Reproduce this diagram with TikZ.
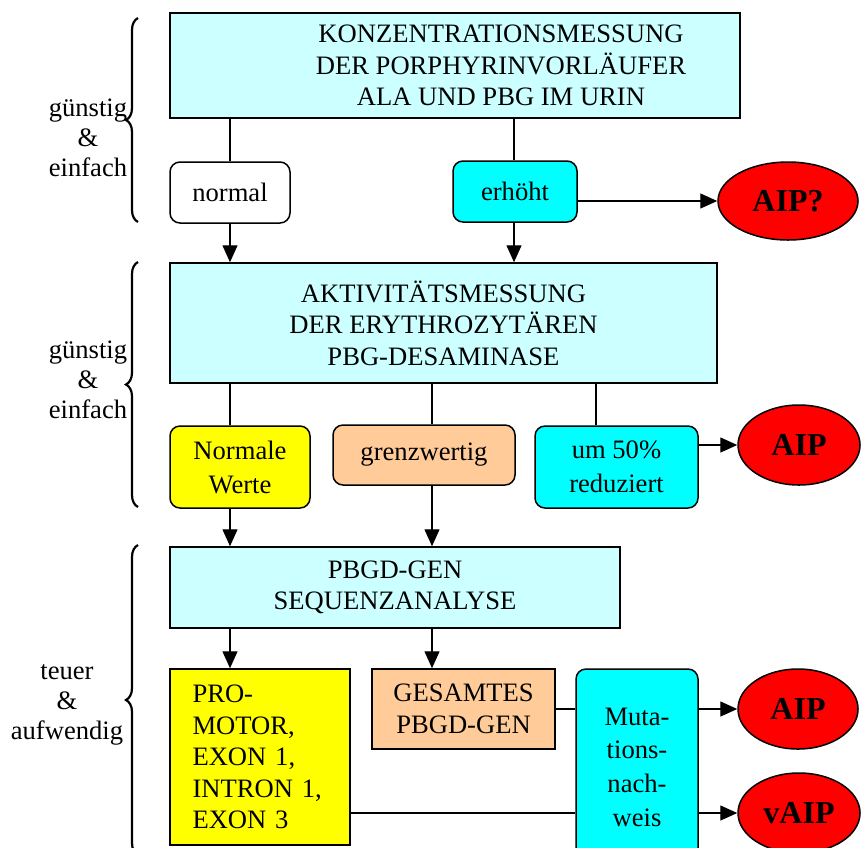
\documentclass[tikz,border=0pt]{standalone}
\usepackage{fontspec}
\setmainfont{Liberation Serif}
\usetikzlibrary{arrows.meta,shapes.geometric,decorations.pathreplacing}

\definecolor{hellcyan}{HTML}{CCFFFF}
\definecolor{vollcyan}{HTML}{00FFFF}
\definecolor{gelb}{HTML}{FFFF00}
\definecolor{pfirsich}{HTML}{FFCC99}
\definecolor{rot}{HTML}{FF0000}

\begin{document}
\begin{tikzpicture}[x=0.5pt, y=-0.5pt,
        box/.style={draw, line width=0.75pt, inner sep=0pt, align=center,
            font=\fontsize{13.3}{15.8}\selectfont},
        rbox/.style={box, rounded corners=5pt},
        diag/.style={ellipse, draw, line width=0.75pt, fill=rot, inner sep=0pt,
            font=\bfseries\fontsize{16}{19}\selectfont},
        verb/.style={line width=0.65pt},
        pfeil/.style={verb, -{Triangle[length=8.5pt, width=7.5pt]}},
        klammer/.style={decorate, decoration={brace, amplitude=6pt}, line width=1.1pt},
        aufwand/.style={align=center, font=\fontsize{13.3}{15}\selectfont}]

        \useasboundingbox (0,0) rectangle (865,847);
        \clip (0,0) rectangle (865,847);

        % columns of the vertical connectors
        \coordinate (c1) at (230,0);
        \coordinate (c2) at (432,0);
        \coordinate (c3) at (514,0);
        \coordinate (c4) at (596,0);

        % stage 1
        \node[box, fill=hellcyan, minimum width=285pt, minimum height=52.5pt] (konz) at (455,65.5)
            {\hspace*{46pt}KONZENTRATIONSMESSUNG\\\hspace*{46pt}DER PORPHYRINVORLÄUFER\\\hspace*{46pt}ALA UND PBG IM URIN};
        \node[rbox, fill=white, minimum width=60pt, minimum height=30.5pt] (normal) at (230,192.5) {normal};
        \node[rbox, fill=vollcyan, minimum width=62pt, minimum height=30.5pt] (erhoeht) at (515,191.5) {erhöht};
        \node[diag, minimum width=70pt, minimum height=39pt] (aipfrage) at (788,201) {AIP?};

        % stage 2
        \node[box, fill=hellcyan, minimum width=273.5pt, minimum height=60pt] (aktiv) at (443.5,323)
            {AKTIVITÄTSMESSUNG\\DER ERYTHROZYTÄREN\\PBG-DESAMINASE};
        \node[rbox, fill=gelb, minimum width=70pt, minimum height=41pt,
            font=\fontsize{13.3}{17}\selectfont] (normwerte) at (240,467) {Normale\\Werte};
        \node[rbox, fill=pfirsich, minimum width=91pt, minimum height=30pt] (grenz) at (424,455) {grenzwertig};
        \node[rbox, fill=vollcyan, minimum width=81.5pt, minimum height=41pt,
            font=\fontsize{13.3}{17}\selectfont] (reduz) at (616.5,467) {um 50\%\\reduziert};
        \node[diag, minimum width=61pt, minimum height=40pt] (aipa) at (799,445) {AIP};

        % stage 3
        \node[box, fill=hellcyan, minimum width=225pt, minimum height=40.5pt] (seq) at (395,587.5)
            {PBGD-GEN\\SEQUENZANALYSE};
        \node[box, fill=gelb, minimum width=90pt, minimum height=88pt, align=left,
            text width=82.5pt, inner xsep=0pt] (promotor) at (260,757)
            {\hspace*{7.5pt}PRO-\\\hspace*{7.5pt}MOTOR,\\\hspace*{7.5pt}EXON 1,\\\hspace*{7.5pt}INTRON 1,\\\hspace*{7.5pt}EXON 3};
        \node[box, fill=pfirsich, minimum width=91.5pt, minimum height=40pt] (gesamt) at (463.5,709)
            {GESAMTES\\PBGD-GEN};
        \node[rbox, fill=vollcyan, minimum width=61pt, minimum height=98pt,
            font=\fontsize{13.3}{16.8}\selectfont] (mutat) at (637,767)
            {Muta-\\tions-\\nach-\\weis};
        \node[diag, minimum width=60pt, minimum height=40pt] (aipb) at (798,709) {AIP};
        \node[diag, minimum width=61pt, minimum height=40pt] (vaip) at (799,813) {vAIP};

        % connectors
        \draw[verb] (konz.south -| c1) -- (normal.north -| c1);
        \draw[verb] (konz.south -| c3) -- (erhoeht.north -| c3);
        \draw[pfeil] (erhoeht.east |- aipfrage.west) -- (aipfrage.west);
        \draw[pfeil] (normal.south -| c1) -- (aktiv.north -| c1);
        \draw[pfeil] (erhoeht.south -| c3) -- (aktiv.north -| c3);

        \draw[verb] (aktiv.south -| c1) -- (normwerte.north -| c1);
        \draw[verb] (aktiv.south -| c2) -- (grenz.north -| c2);
        \draw[verb] (aktiv.south -| c4) -- (reduz.north -| c4);
        \draw[pfeil] (reduz.east |- aipa.west) -- (aipa.west);
        \draw[pfeil] (normwerte.south -| c1) -- (seq.north -| c1);
        \draw[pfeil] (grenz.south -| c2) -- (seq.north -| c2);

        \draw[pfeil] (seq.south -| c1) -- (promotor.north -| c1);
        \draw[pfeil] (seq.south -| c2) -- (gesamt.north -| c2);
        \draw[verb] (gesamt.east) -- (gesamt.east -| mutat.west);
        \draw[verb] (promotor.east |- vaip.west) -- (mutat.west |- vaip.west);
        \draw[pfeil] (mutat.east |- aipb.west) -- (aipb.west);
        \draw[pfeil] (mutat.east |- vaip.west) -- (vaip.west);

        % cost braces
        \coordinate (k1o) at (138,18);  \coordinate (k1u) at (138,222);
        \coordinate (k2o) at (138,262); \coordinate (k2u) at (138,507);
        \coordinate (k3o) at (138,545); \coordinate (k3u) at (138,855);
        \draw[klammer] (k1u) -- (k1o);
        \draw[klammer] (k2u) -- (k2o);
        \draw[klammer] (k3u) -- (k3o);
        \node[aufwand] (aufw1) at (88,138) {günstig\\\&\\einfach};
        \node[aufwand] (aufw2) at (88,380) {günstig\\\&\\einfach};
        \node[aufwand] (aufw3) at (67,705) {teuer\\\&\\aufwendig};
    \end{tikzpicture}
\end{document}
